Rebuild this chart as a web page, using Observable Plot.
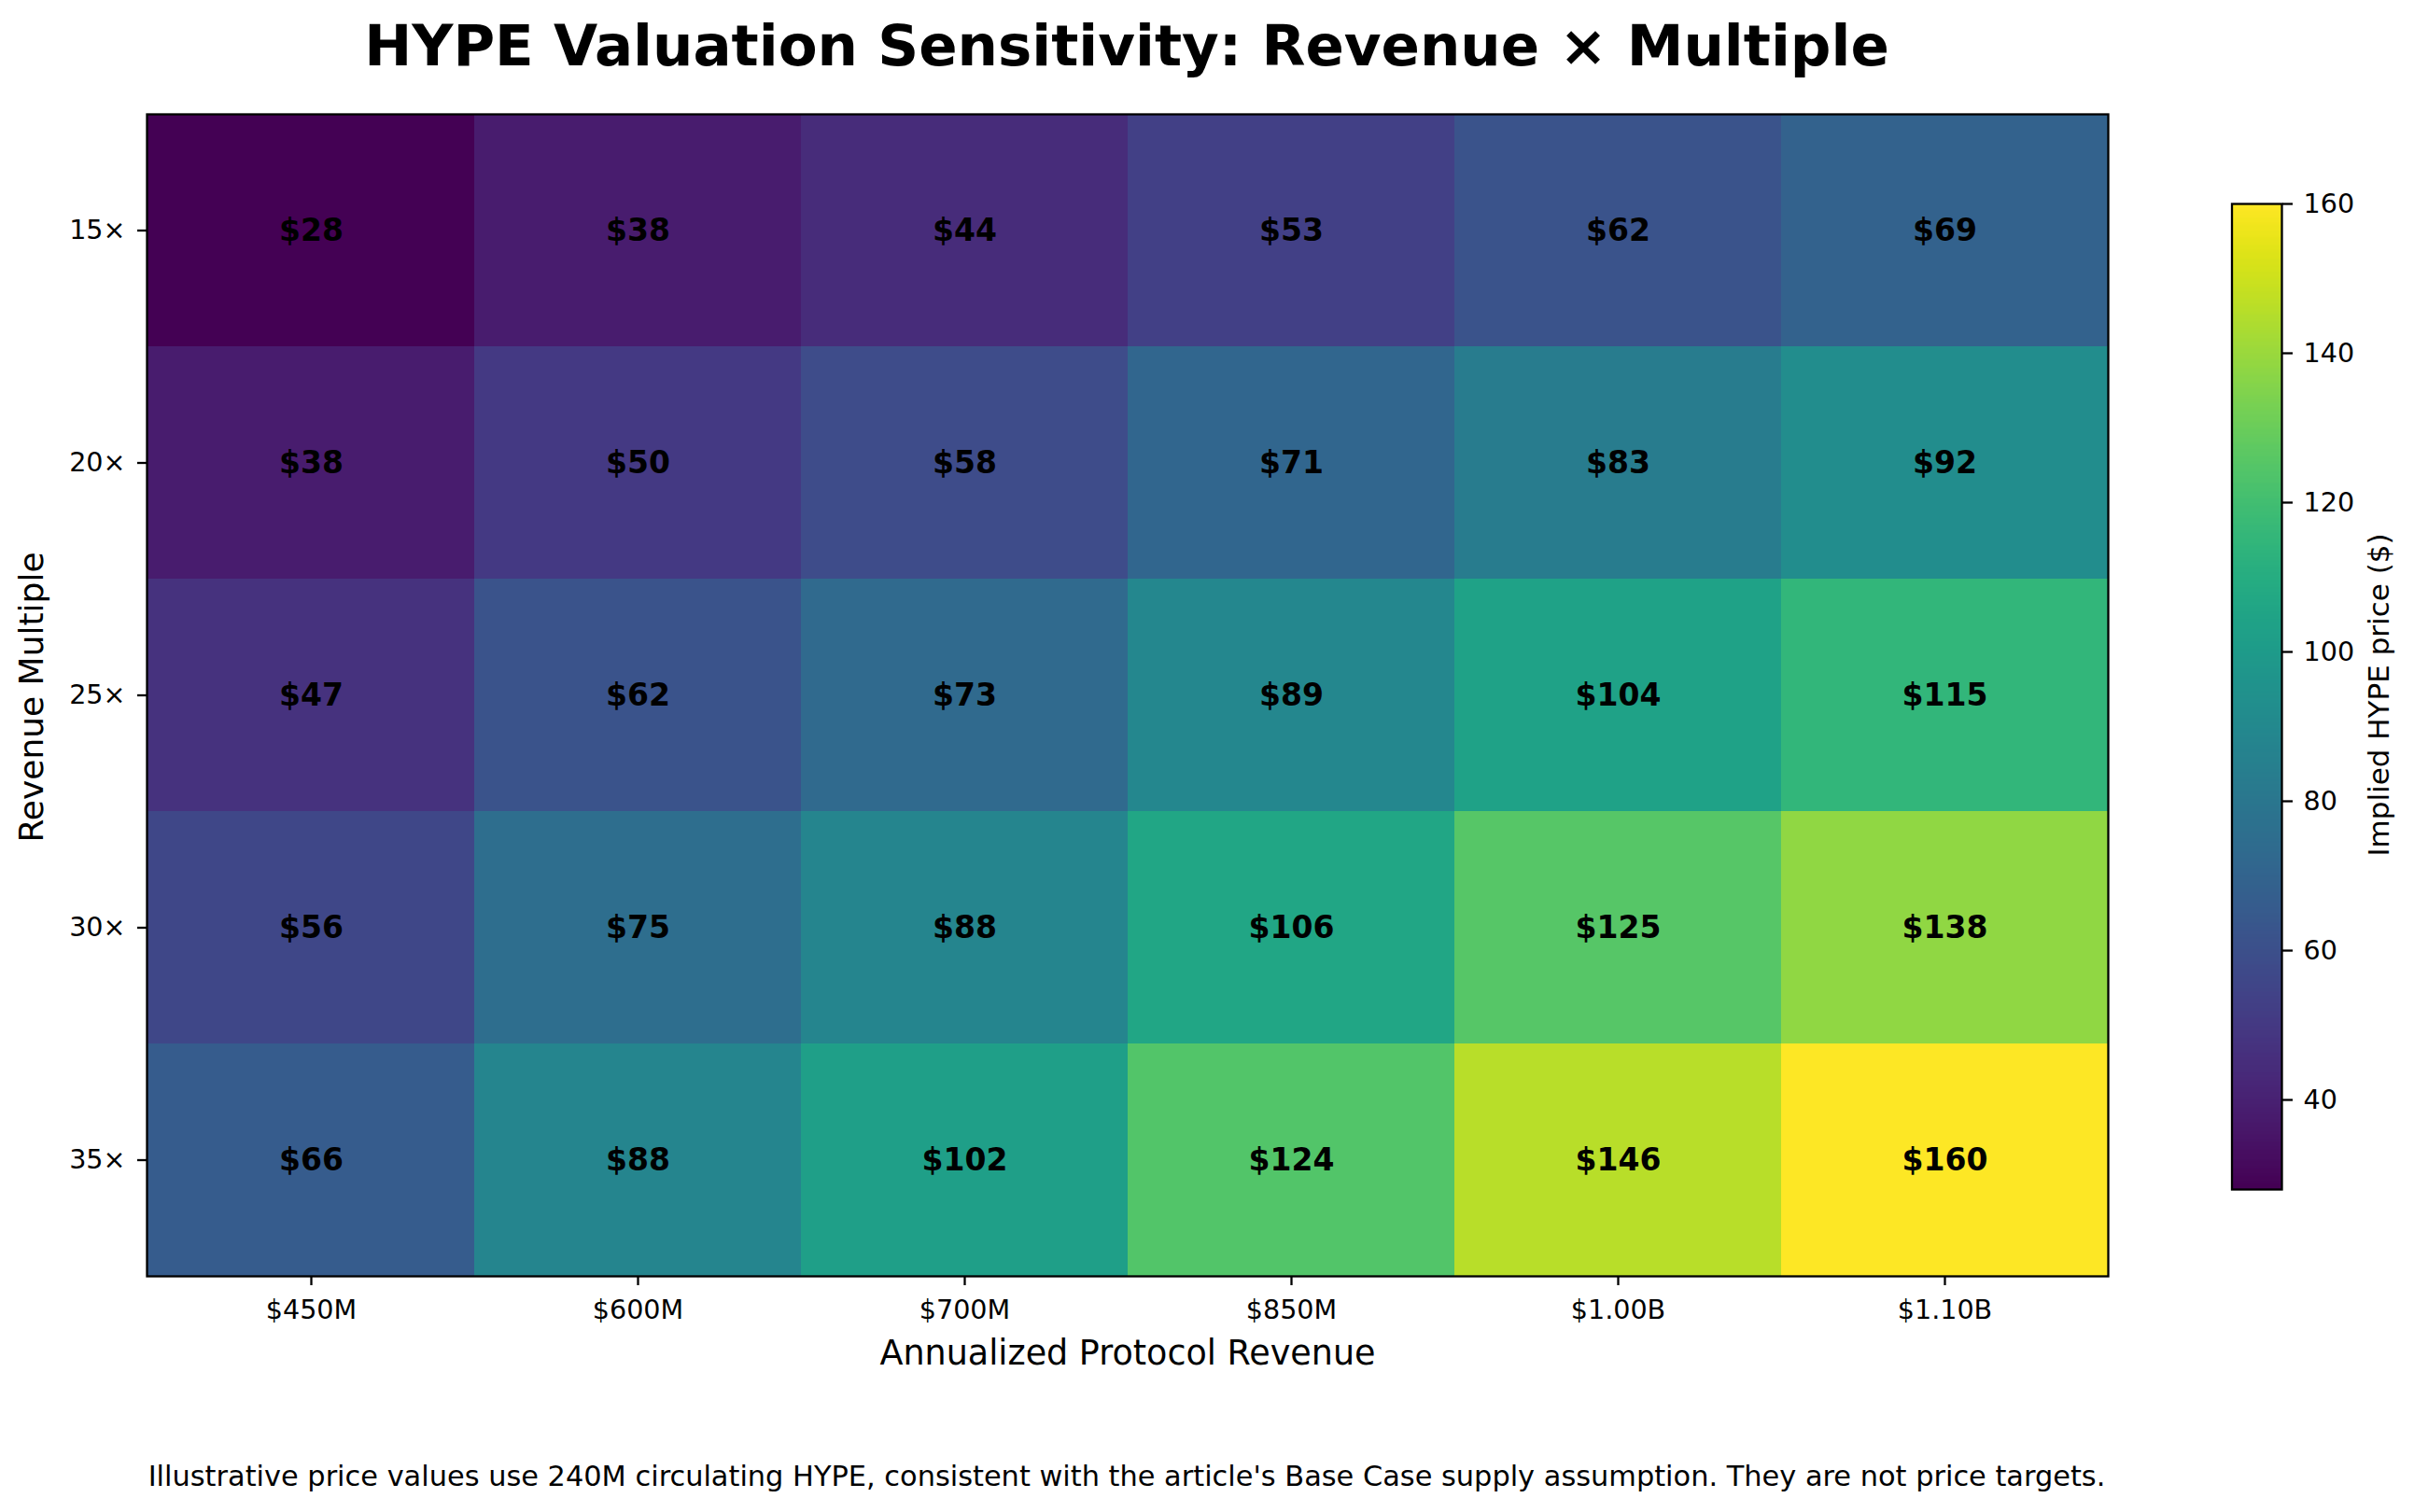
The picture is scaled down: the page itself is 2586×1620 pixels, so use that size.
<!DOCTYPE html>
<html>
<head>
<meta charset="utf-8">
<script src="https://cdn.jsdelivr.net/npm/d3@7"></script>
<script src="https://cdn.jsdelivr.net/npm/@observablehq/plot@0.6"></script>
<style>
  html, body { margin: 0; padding: 0; background: #fff; }
  #wrap { position: relative; width: 2586px; height: 1620px; background: #fff; font-family: "DejaVu Sans", sans-serif; color: #000; overflow: hidden; }
  #title { position: absolute; left: 0; top: 18px; width: 2414px; text-align: center; font-size: 61px; line-height: 61px; font-weight: bold; white-space: nowrap; }
  #caption { position: absolute; left: 0; top: 1567px; width: 2414px; text-align: center; font-size: 30.4px; line-height: 30.4px; white-space: nowrap; }
  #main { position: absolute; left: 0; top: 100px; }
  #cbar { position: absolute; left: 2380px; top: 200px; }
</style>
</head>
<body>
<div id="wrap">
  <div id="title">HYPE Valuation Sensitivity: Revenue × Multiple</div>
  <div id="main"></div>
  <div id="cbar"></div>
  <div id="caption">Illustrative price values use 240M circulating HYPE, consistent with the article's Base Case supply assumption. They are not price targets.</div>
</div>
<script>
// Data
const revenueLabels = ["$450M", "$600M", "$700M", "$850M", "$1.00B", "$1.10B"];
const multipleLabels = ["15×", "20×", "25×", "30×", "35×"];
const prices15x = [28, 38, 44, 53, 62, 69];
const prices20x = [38, 50, 58, 71, 83, 92];
const prices25x = [47, 62, 73, 89, 104, 115];
const prices30x = [56, 75, 88, 106, 125, 138];
const prices35x = [66, 88, 102, 124, 146, 160];
const colorTicks = [40, 60, 80, 100, 120, 140, 160];
const colorDomain = [28, 160];

const priceRows = [prices15x, prices20x, prices25x, prices30x, prices35x];
const table = [];
priceRows.forEach((row, i) => row.forEach((v, j) => table.push({mult: multipleLabels[i], rev: revenueLabels[j], value: v})));

const colorOpts = {type: "linear", scheme: "viridis", domain: colorDomain};

const main = Plot.plot({
  width: 2300,
  height: 1400,
  marginTop: 22,
  marginLeft: 157,
  marginRight: 42,
  marginBottom: 133,
  style: {fontFamily: "DejaVu Sans, sans-serif", fontSize: "28.6px", color: "#000", background: "transparent"},
  x: {type: "band", domain: revenueLabels, padding: 0, label: null},
  y: {type: "band", domain: multipleLabels, padding: 0, label: null},
  color: colorOpts,
  marks: [
    Plot.cell(table, {x: "rev", y: "mult", fill: "value", inset: 0}),
    Plot.text(table, {x: "rev", y: "mult", text: d => "$" + d.value, fontWeight: "bold", fontSize: 33, fill: "#000"}),
    Plot.frame({stroke: "#000", strokeWidth: 2.3}),
    Plot.axisX({anchor: "bottom", tickSize: 10, tickPadding: 15, strokeWidth: 2.3, label: null, fontSize: 28.6}),
    Plot.axisY({anchor: "left", tickSize: 10, tickPadding: 13, strokeWidth: 2.3, label: null, fontSize: 28.6}),
    Plot.text(["Annualized Protocol Revenue"], {frameAnchor: "bottom", text: d => d, textAnchor: "middle", lineAnchor: "bottom", dy: 94, fontSize: 36.5}),
    Plot.text(["Revenue Multiple"], {frameAnchor: "left", text: d => d, textAnchor: "middle", lineAnchor: "bottom", rotate: -90, dx: -112, dy: 2, fontSize: 36})
  ]
});
document.getElementById("main").appendChild(main);

const cbar = Plot.plot({
  width: 206,
  height: 1100,
  marginTop: 18,
  marginBottom: 26,
  marginLeft: 10.5,
  marginRight: 142,
  style: {fontFamily: "DejaVu Sans, sans-serif", fontSize: "28.6px", color: "#000", background: "transparent"},
  x: {domain: [0, 1], axis: null},
  y: {domain: colorDomain, label: null},
  color: colorOpts,
  marks: [
    Plot.raster({x1: 0, x2: 1, y1: colorDomain[0], y2: colorDomain[1], width: 1, height: 400, fill: (x, y) => y}),
    Plot.frame({stroke: "#000", strokeWidth: 2.3}),
    Plot.axisY({anchor: "right", ticks: colorTicks, tickSize: 11, tickPadding: 12, strokeWidth: 2.3, label: null, fontSize: 28.6}),
    Plot.text(["Implied HYPE price ($)"], {frameAnchor: "right", text: d => d, textAnchor: "middle", lineAnchor: "bottom", rotate: -90, dx: 114, dy: -2, fontSize: 31})
  ]
});
document.getElementById("cbar").appendChild(cbar);
</script>
</body>
</html>
